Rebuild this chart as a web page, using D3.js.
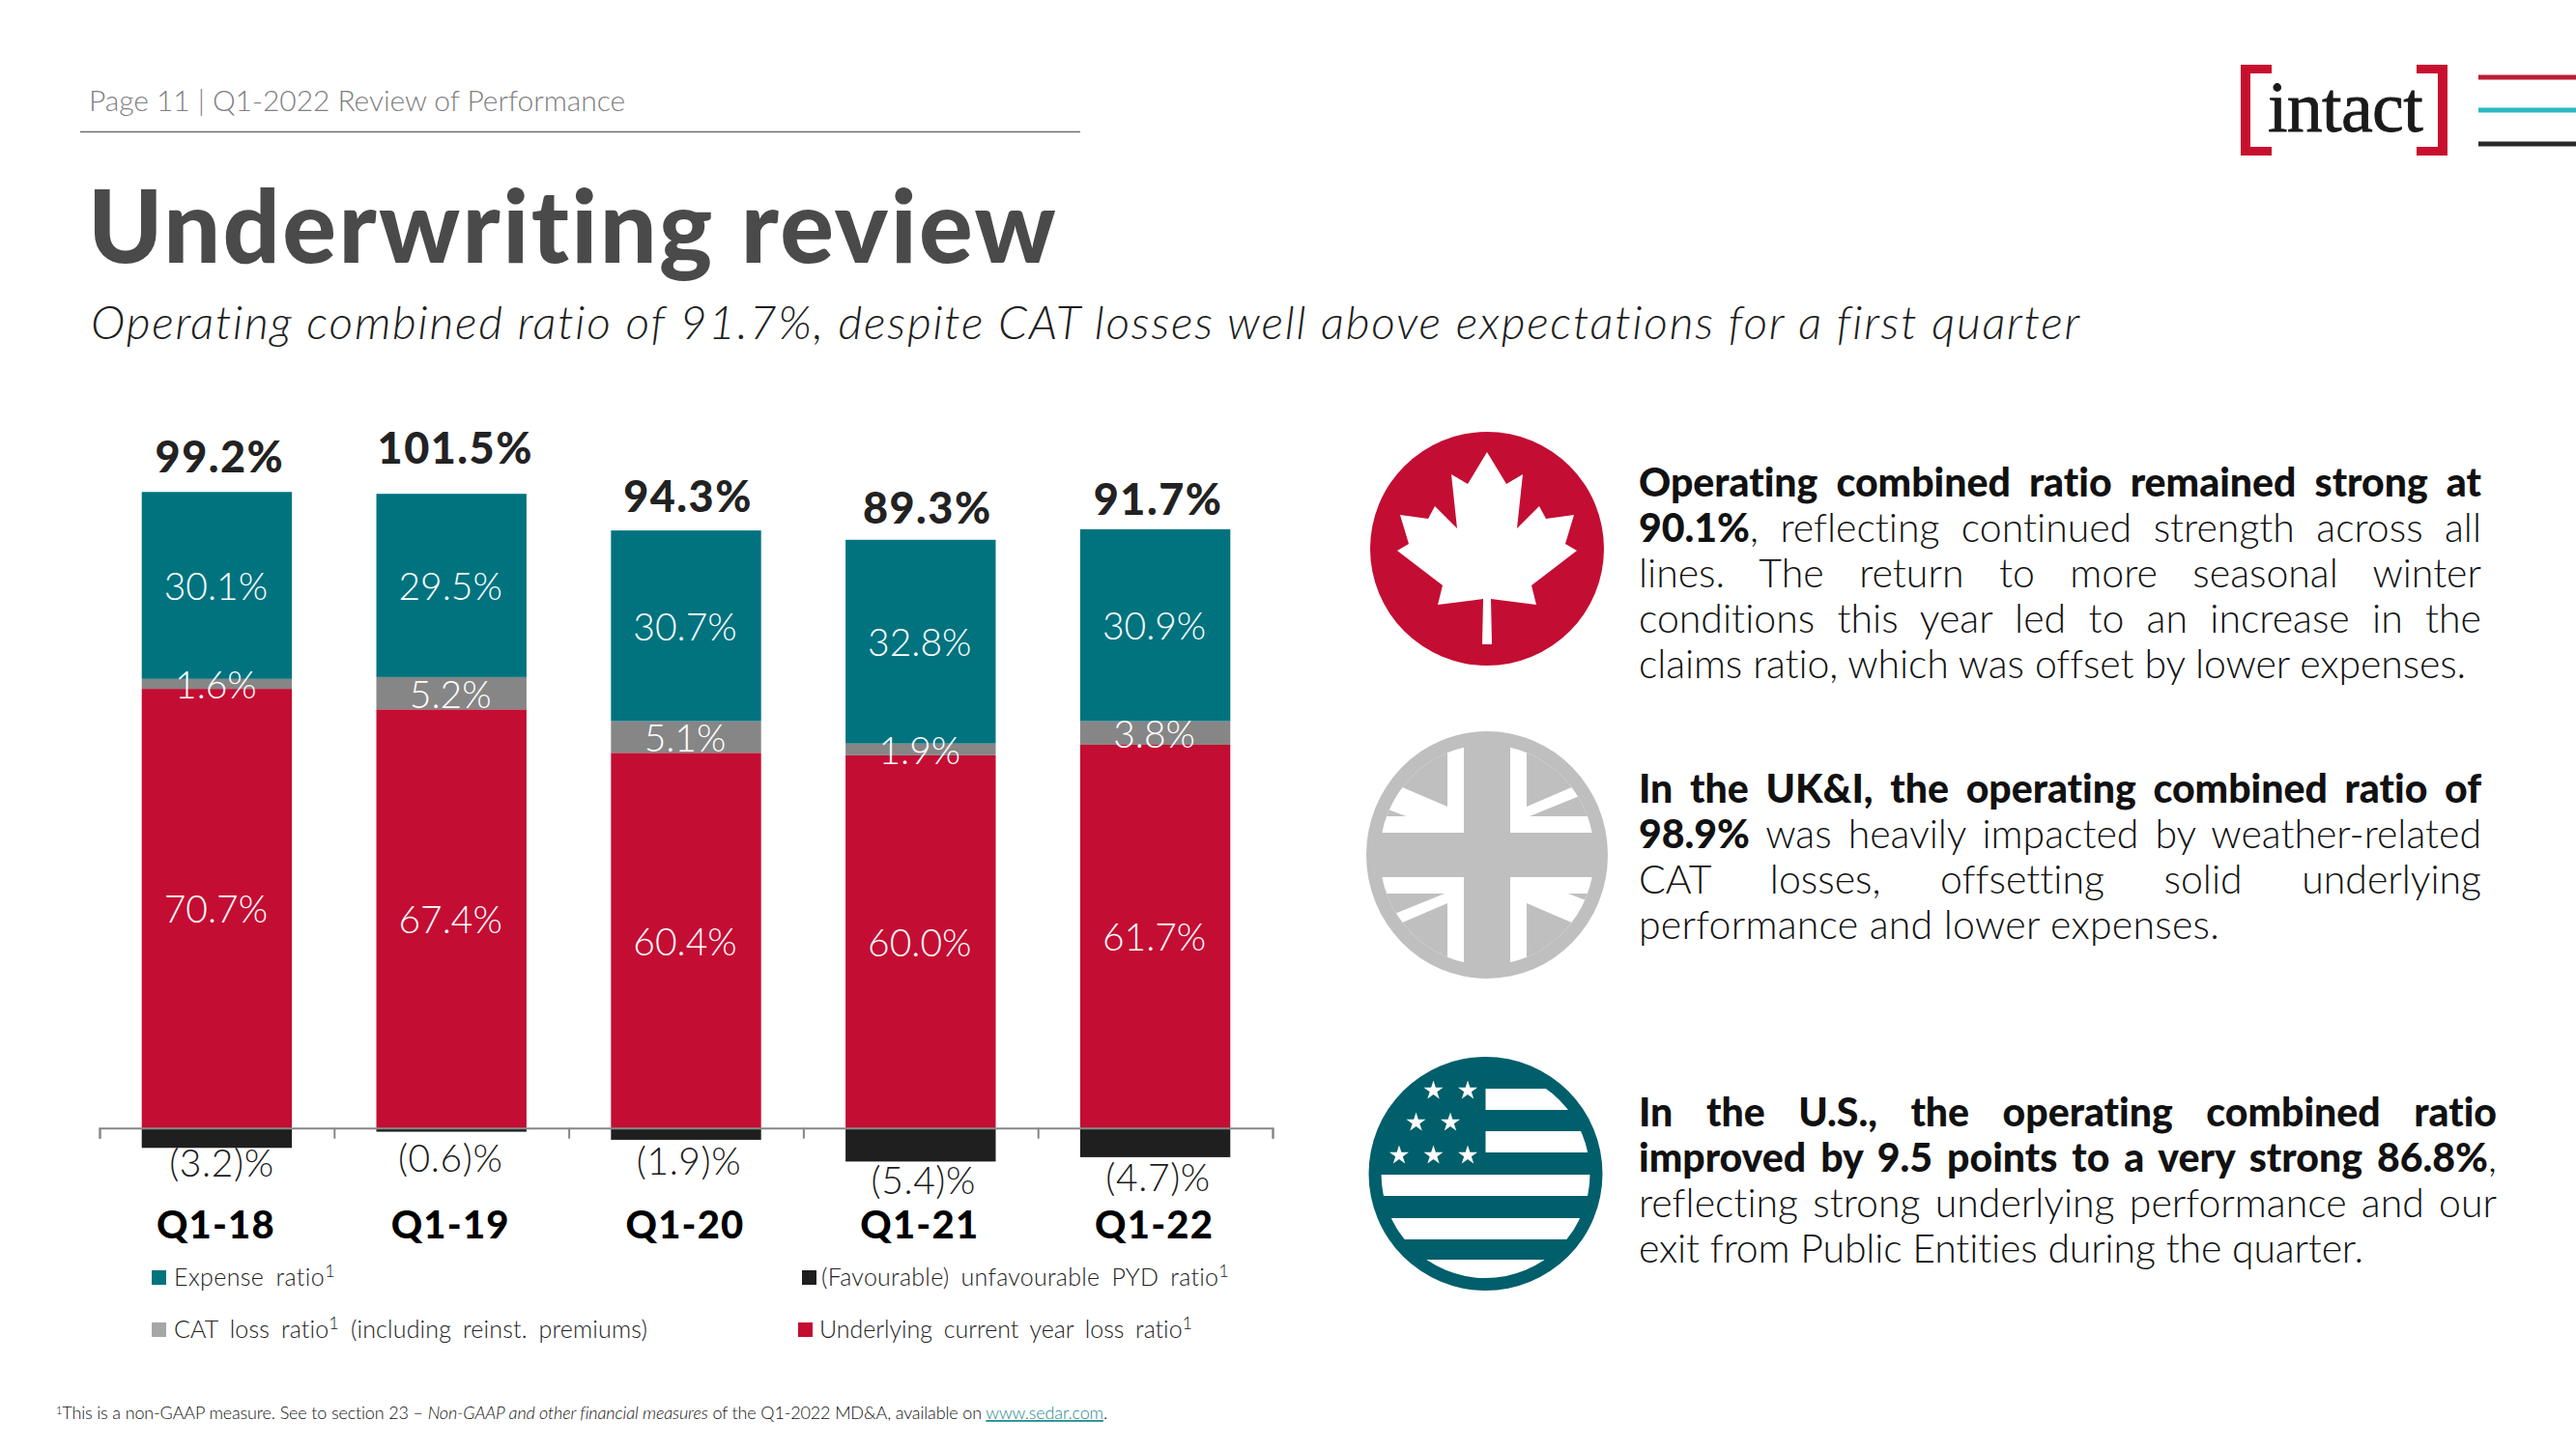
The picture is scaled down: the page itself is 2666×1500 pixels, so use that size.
<!DOCTYPE html>
<html><head><meta charset="utf-8">
<script src="https://cdn.jsdelivr.net/npm/d3@7"></script>
<style>html,body{margin:0;padding:0;background:#fff}svg{display:block}text{font-family:Lato,"Noto Sans",sans-serif;font-variant-ligatures:none}</style>
</head><body><svg id="c" width="2666" height="1500"></svg>
<script>
const categories=["Q1-18","Q1-19","Q1-20","Q1-21","Q1-22"];
const expense=[30.1,29.5,30.7,32.8,30.9];
const cat=[1.6,5.2,5.1,1.9,3.8];
const underlying=[70.7,67.4,60.4,60.0,61.7];
const pyd=[-3.2,-0.6,-1.9,-5.4,-4.7];
const totals=["99.2%","101.5%","94.3%","89.3%","91.7%"];
const pydLabels=["(3.2)%","(0.6)%","(1.9)%","(5.4)%","(4.7)%"];
const legendItems=[["Expense ratio","#00737f"],["CAT loss ratio","#a6a6a6"],["(Favourable) unfavourable PYD ratio","#1f1f1f"],["Underlying current year loss ratio","#c40d33"]];
const C={teal:"#00737f",gray:"#868686",red:"#c40d33",black:"#1f1f1f"};

const svg=d3.select("#c");
const fit=(t,w)=>{const n=t.text().length;const c=t.node().getComputedTextLength();t.style("letter-spacing",((w-c)/n)+"px");return t;};
const x=d3.scaleBand().domain(categories).range([103,1317]).paddingInner(0.36).paddingOuter(0.18);
const y=d3.scaleLinear().domain([0,100]).range([1167.7,524.7]);
const tickScale=d3.scaleLinear().domain([0,categories.length]).range([103,1317]);

const chart=svg.append("g");
const stackData=categories.map((c,i)=>({c,underlying:underlying[i],cat:cat[i],expense:expense[i]}));
const stack=d3.stack().keys(["underlying","cat","expense"])(stackData);
const colors={underlying:C.red,cat:C.gray,expense:C.teal};
stack.forEach(s=>{
  chart.append("g").selectAll("rect").data(s).join("rect")
   .attr("x",d=>x(d.data.c)).attr("width",x.bandwidth())
   .attr("y",d=>y(d[1])).attr("height",d=>y(d[0])-y(d[1])).attr("fill",colors[s.key]);
});
chart.append("g").selectAll("rect").data(pyd).join("rect")
 .attr("x",(d,i)=>x(categories[i])).attr("width",x.bandwidth())
 .attr("y",y(0)).attr("height",d=>y(d)-y(0)).attr("fill",C.black);
stack.forEach(s=>{
  chart.append("g").selectAll("text").data(s).join("text")
   .attr("x",d=>x(d.data.c)+x.bandwidth()/2-1).attr("y",d=>(y(d[0])+y(d[1]))/2+15)
   .attr("text-anchor","middle").attr("font-size",39).attr("font-weight",300).attr("fill","#fff")
   .text(d=>d.data[s.key].toFixed(1)+"%");
});

const axis=d3.axisBottom(tickScale).ticks(categories.length).tickSize(11).tickSizeOuter(11).tickFormat("");
const ag=chart.append("g").attr("transform",`translate(0,${y(0)})`).call(axis);
ag.selectAll("path,line").attr("stroke","#868686").attr("stroke-width",2);

const totalLift=[36,47,35,33,31], totalShift=[3,4,2,7,3];
chart.append("g").selectAll("text").data(totals).join("text")
 .attr("x",(d,i)=>x(categories[i])+x.bandwidth()/2+totalShift[i])
 .attr("y",(d,i)=>y(d3.sum([expense[i],cat[i],underlying[i]]))-totalLift[i]+16)
 .attr("text-anchor","middle").attr("font-size",45).attr("font-weight",900).attr("fill","#222").style("letter-spacing","1.5px").text(d=>d);
const pydDrop=[16,27,22,20,21], pydShift=[5,-1,3,3,3];
chart.append("g").selectAll("text").data(pydLabels).join("text")
 .attr("x",(d,i)=>x(categories[i])+x.bandwidth()/2+pydShift[i])
 .attr("y",(d,i)=>y(pyd[i])+pydDrop[i]+14)
 .attr("text-anchor","middle").attr("font-size",39).attr("font-weight",300).attr("fill","#1a1a1a").style("letter-spacing","0.6px").text(d=>d);
chart.append("g").selectAll("text").data(categories).join("text")
 .attr("x",d=>x(d)+x.bandwidth()/2-1).attr("y",1282)
 .attr("text-anchor","middle").attr("font-size",40).attr("font-weight",900).attr("fill","#000").style("letter-spacing","1.2px").text(d=>d);

// legend
const legendPos=[[157,1322,180,167],[157,1376,180,490],[830,1322,850,422],[826,1376,848,386]];
legendItems.forEach((l,i)=>{
  const p=legendPos[i];
  svg.append("rect").attr("x",p[0]).attr("y",p[1]-7).attr("width",15).attr("height",15).attr("fill",l[1]);
  const t=svg.append("text").attr("x",p[2]).attr("y",p[1]+9).attr("font-size",25).attr("font-weight",300).attr("fill","#222").attr("word-spacing",5);
  t.append("tspan").text(l[0]);
  t.append("tspan").attr("font-size",18).attr("dy",-9).text("1");
  if(i===1) t.append("tspan").attr("dy",9).text(" (including reinst. premiums)");
  fit(t,p[3]);
});

// header
fit(svg.append("text").attr("x",92).attr("y",115).attr("font-size",30).attr("font-weight",300).attr("fill","#7f7f7f").text("Page 11  |  Q1-2022 Review of Performance"),555);
svg.append("line").attr("x1",83).attr("x2",1118).attr("y1",136.5).attr("y2",136.5).attr("stroke","#6e6e6e").attr("stroke-width",1.5);
fit(svg.append("text").attr("x",91).attr("y",272).attr("font-size",104).attr("font-weight",900).attr("fill","#4a4a4a").text("Underwriting review"),1004);
fit(svg.append("text").attr("x",94).attr("y",351).attr("font-size",48).attr("font-weight",300).attr("font-style","italic").attr("fill","#1e1e1e").text("Operating combined ratio of 91.7%, despite CAT losses well above expectations for a first quarter"),2060);

// logo
const lg=svg.append("g");
const brack=(x0,dir)=>{lg.append("path").attr("fill","#c8102e").attr("d",`M${x0} 67h${dir*32}v9h${dir*-22}v76h${dir*22}v9h${dir*-32}z`);};
brack(2319,1);brack(2533,-1);
fit(lg.append("text").attr("x",2347).attr("y",136).style("font-family","'Liberation Serif',serif").attr("font-size",74).attr("stroke","#1a1a1a").attr("stroke-width",0.8).attr("fill","#1a1a1a").text("intact"),160);
[[80,"#bd1c35"],[114,"#2abac4"],[149,"#2a2a2a"]].forEach(d=>svg.append("rect").attr("x",2565).attr("y",d[0]-2.5).attr("width",101).attr("height",5).attr("fill",d[1]));

// icons
const icons=svg.append("g");
icons.append("circle").attr("cx",1539).attr("cy",568).attr("r",121).attr("fill","#c40d33");
const leaf=[[0,-108],[20,-75],[37,-85],[31,-29],[54,-52],[61,-39],[90,-43],[81,-13],[93,-6],[46,30],[51,50],[4,44],[4,44],[5,91],[-5,91],[-4,44],[-4,44],[-51,50],[-46,30],[-93,-6],[-81,-13],[-90,-43],[-61,-39],[-54,-52],[-31,-29],[-37,-85],[-20,-75]];
icons.append("path").attr("transform","translate(1539,576)").attr("fill","#fff").attr("d",d3.line()(leaf)+"Z");

const G="#bfbfbf";
icons.append("ellipse").attr("cx",1539).attr("cy",885).attr("rx",125).attr("ry",128).attr("fill",G);
const defs=svg.append("defs");
defs.append("clipPath").attr("id","ukc").append("ellipse").attr("rx",111).attr("ry",114);
const uk=icons.append("g").attr("transform","translate(1539,885)").append("g").attr("clip-path","url(#ukc)");
[0,180].forEach(rot=>{
  const g=uk.append("g").attr("transform",`rotate(${rot})`);
  g.append("rect").attr("x",24).attr("y",-130).attr("width",110).attr("height",107).attr("fill","#fff");
  g.append("rect").attr("x",-134).attr("y",-130).attr("width",110).attr("height",107).attr("fill","#fff");
  g.append("path").attr("fill",G).attr("d","M41 -130L130 -130L130 -88L41 -50Z M44 -40L130 -75L130 -40Z");
  g.append("path").attr("fill",G).attr("d","M-41 -130L-130 -130L-130 -88L-41 -50Z M-84 -40L-130 -58L-130 -40Z");
});

const US="#005f6b";
icons.append("circle").attr("cx",1537.5).attr("cy",1215).attr("r",121).attr("fill",US);
const us=icons.append("g").attr("transform","translate(1537.5,1215)");
defs.append("clipPath").attr("id","usc").append("circle").attr("r",108);
const ui=us.append("g").attr("clip-path","url(#usc)");
[[-88,0,22,120],[-44,0,22,120],[1,-120,22,240],[46,-120,22,240],[89,-120,20,240]].forEach(([yy,xx,h,w])=>{
  ui.append("rect").attr("x",xx).attr("y",yy).attr("width",w).attr("height",h).attr("fill","#fff");
});
const star=d3.symbol().type(d3.symbolStar).size(125);
[[-54,-87],[-18.5,-87],[-72,-54],[-36.5,-54],[-89.5,-20],[-54,-20],[-18.5,-20]].forEach(p=>{
  us.append("path").attr("transform",`translate(${p[0]},${p[1]+1})`).attr("fill","#fff").attr("d",star());
});

// right text
const paras=[
 {y:514,x:[1696,2568],end:2552,lines:[[["Operating combined ratio remained strong at",1]],[["90.1%",1],[", reflecting continued strength across all",0]],[["lines. The return to more seasonal winter",0]],[["conditions this year led to an increase in the",0]],[["claims ratio, which was offset by lower expenses.",0,1]]]},
 {y:831,x:[1696,2568],end:2297,lines:[[["In the UK&I, the ",1],["operating combined ratio of",1]],[["98.9%",1],[" was heavily impacted by weather-related",0]],[["CAT losses, offsetting solid underlying",0]],[["performance and lower expenses.",0,1]]]},
 {y:1166,x:[1696,2584],end:2446,lines:[[["In the U.S., the operating combined ratio",1]],[["improved by 9.5 points to a very strong 86.8%",1],[",",0]],[["reflecting strong underlying performance and our",0]],[["exit from Public Entities during the quarter.",0,1]]]}
];
paras.forEach(p=>p.lines.forEach((ln,i)=>{
  const t=svg.append("text").attr("x",p.x[0]).attr("y",p.y+i*47).attr("font-size",41).attr("fill","#111");
  ln.forEach(seg=>t.append("tspan").attr("font-weight",seg[1]?900:300).text(seg[0]));
  if(ln[ln.length-1][2]) fit(t,p.end-p.x[0]);
  else{
    const txt=ln.map(s=>s[0]).join("");const n=(txt.match(/ /g)||[]).length;
    t.attr("word-spacing",(p.x[1]-p.x[0]-t.node().getComputedTextLength())/n);
  }
}));

// footnote
const f=svg.append("text").attr("x",58).attr("y",1469).attr("font-size",18).attr("font-weight",300).attr("fill","#111");
f.append("tspan").attr("font-size",11).attr("dy",-5).text("1");
f.append("tspan").attr("dy",5).text("This is a non-GAAP measure. See to section 23 – ");
f.append("tspan").attr("font-style","italic").text("Non-GAAP and other financial measures");
f.append("tspan").text(" of the Q1-2022 MD&A, available on ");
f.append("tspan").attr("fill","#1f8a8c").attr("text-decoration","underline").text("www.sedar.com");
f.append("tspan").text(".");
fit(f,1088);
</script></body></html>
